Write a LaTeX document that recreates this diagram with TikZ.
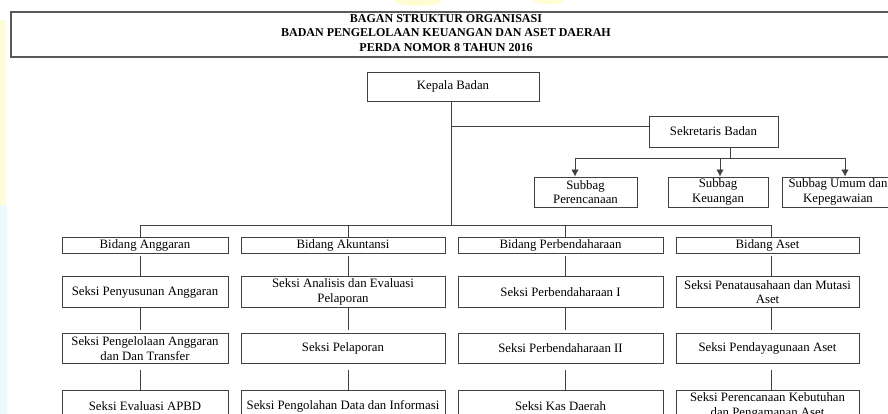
\documentclass[tikz,border=0pt]{standalone}
\usepackage{fontspec}
\setmainfont{Liberation Serif}
\usepackage{xcolor}
\usetikzlibrary{positioning,arrows.meta}

\begin{document}
\begin{tikzpicture}[
        x=1pt, y=-1pt,
        box/.style={
            draw=black!75,
            line width=0.9pt,
            fill=white,
            align=center,
            inner sep=0pt,
            font=\fontsize{12.8}{14.5}\selectfont
        },
        subbagbox/.style={box, minimum height=30pt, minimum width=#1},
        bidangbox/.style={box, minimum height=16pt, minimum width=#1},
        seksibox/.style={box, minimum height=30.5pt, minimum width=#1},
        titletext/.style={
            align=center,
            inner sep=0pt,
            font=\fontsize{12}{14.5}\selectfont\bfseries
        },
        link/.style={draw=black!75, line width=0.9pt},
        arrow/.style={link, -{Latex[length=7pt,width=7.5pt]}}
    ]
        \useasboundingbox (0,0) rectangle (888,414);
        \clip (0,0) rectangle (888,414);

        % faint watermark
        \fill[yellow!15] (0,20) rectangle (6,205);
        \fill[cyan!7] (0,205) rectangle (7,414);
        \fill[yellow!18] (418,0) ellipse (24pt and 6pt);
        \fill[yellow!18] (548,0) ellipse (16pt and 4pt);

        % title
        \draw[draw=black!65, line width=1.2pt] (11,12) rectangle (895,57);
        \node[titletext] (judul) at (446,33) {BAGAN STRUKTUR ORGANISASI\\BADAN PENGELOLAAN KEUANGAN DAN ASET DAERAH\\PERDA NOMOR 8 TAHUN 2016};

        % pimpinan
        \node[box, minimum width=172pt, minimum height=29pt] (kepala) at (453,86.5) {Kepala Badan};
        \node[box, minimum width=129pt, minimum height=31pt] (sekretaris) at (713.5,131.5) {Sekretaris Badan};

        \node[subbagbox=103pt] (perencanaan) at (585.5,192) {Subbag\\Perencanaan};
        \node[subbagbox=100pt] (keuangan) at (718,192) {Subbag\\Keuangan};
        \node[subbagbox=112pt] (umum) at (838,192) {Subbag Umum dan\\Kepegawaian};

        % bidang
        \node[bidangbox=166pt] (anggaran) at (145,245) {Bidang Anggaran};
        \node[bidangbox=204pt] (akuntansi) at (343,245) {Bidang Akuntansi};
        \node[bidangbox=205pt] (perbendaharaan) at (560.5,245) {Bidang Perbendaharaan};
        \node[bidangbox=183pt] (aset) at (767.5,245) {Bidang Aset};

        % seksi
        \node[seksibox=166pt, below=23pt of anggaran] (anggaran1) {Seksi Penyusunan Anggaran};
        \node[seksibox=166pt, below=25pt of anggaran1] (anggaran2) {Seksi Pengelolaan Anggaran\\dan Dan Transfer};
        \node[seksibox=166pt, below=26pt of anggaran2] (anggaran3) {Seksi Evaluasi APBD};

        \node[seksibox=204pt, below=23pt of akuntansi] (akuntansi1) {Seksi Analisis dan Evaluasi\\Pelaporan};
        \node[seksibox=204pt, below=25pt of akuntansi1] (akuntansi2) {Seksi Pelaporan};
        \node[seksibox=204pt, below=26pt of akuntansi2] (akuntansi3) {Seksi Pengolahan Data dan Informasi};

        \node[seksibox=205pt, below=23pt of perbendaharaan] (perbendaharaan1) {Seksi Perbendaharaan I};
        \node[seksibox=205pt, below=25pt of perbendaharaan1] (perbendaharaan2) {Seksi Perbendaharaan II};
        \node[seksibox=205pt, below=26pt of perbendaharaan2] (perbendaharaan3) {Seksi Kas Daerah};

        \node[seksibox=183pt, below=23pt of aset] (aset1) {Seksi Penatausahaan dan Mutasi\\Aset};
        \node[seksibox=183pt, below=25pt of aset1] (aset2) {Seksi Pendayagunaan Aset};
        \node[seksibox=183pt, below=26pt of aset2] (aset3) {Seksi Perencanaan Kebutuhan\\dan Pengamanan Aset};

        % titik cabang
        \coordinate (pusat) at (451,225);
        \coordinate (cabang) at (451,126);
        \coordinate (sekbawah) at (730,158);
        \coordinate (panah1) at (575,158);
        \coordinate (panah2) at (720,158);
        \coordinate (panah3) at (845,158);
        \coordinate (colA) at (140,225);
        \coordinate (colB) at (348,225);
        \coordinate (colC) at (565,225);
        \coordinate (colD) at (771,225);

        \draw[link] (kepala.south -| pusat) -- (pusat);
        \draw[link] (cabang) -- (cabang -| sekretaris.west);
        \draw[link] (sekretaris.south -| sekbawah) -- (sekbawah);
        \draw[link] (panah1) -- (panah3);
        \draw[arrow] (panah1) -- (panah1 |- perencanaan.north);
        \draw[arrow] (panah2) -- (panah2 |- keuangan.north);
        \draw[arrow] (panah3) -- (panah3 |- umum.north);

        \draw[link] (colA) -- (colD);
        \draw[link] (colA) -- (colA |- anggaran.north);
        \draw[link] (colB) -- (colB |- akuntansi.north);
        \draw[link] (colC) -- (colC |- perbendaharaan.north);
        \draw[link] (colD) -- (colD |- aset.north);

        \draw[link, shorten <=3pt] (colA |- anggaran.south) -- (colA |- anggaran1.north);
        \draw[link, shorten >=3pt] (colA |- anggaran1.south) -- (colA |- anggaran2.north);
        \draw[link, shorten <=6pt] (colA |- anggaran2.south) -- (colA |- anggaran3.north);
        \draw[link, shorten <=3pt] (colB |- akuntansi.south) -- (colB |- akuntansi1.north);
        \draw[link, shorten >=3pt] (colB |- akuntansi1.south) -- (colB |- akuntansi2.north);
        \draw[link, shorten <=6pt] (colB |- akuntansi2.south) -- (colB |- akuntansi3.north);
        \draw[link, shorten <=3pt] (colC |- perbendaharaan.south) -- (colC |- perbendaharaan1.north);
        \draw[link, shorten >=3pt] (colC |- perbendaharaan1.south) -- (colC |- perbendaharaan2.north);
        \draw[link, shorten <=6pt] (colC |- perbendaharaan2.south) -- (colC |- perbendaharaan3.north);
        \draw[link, shorten <=3pt] (colD |- aset.south) -- (colD |- aset1.north);
        \draw[link, shorten >=3pt] (colD |- aset1.south) -- (colD |- aset2.north);
        \draw[link, shorten <=6pt] (colD |- aset2.south) -- (colD |- aset3.north);
    \end{tikzpicture}
\end{document}
